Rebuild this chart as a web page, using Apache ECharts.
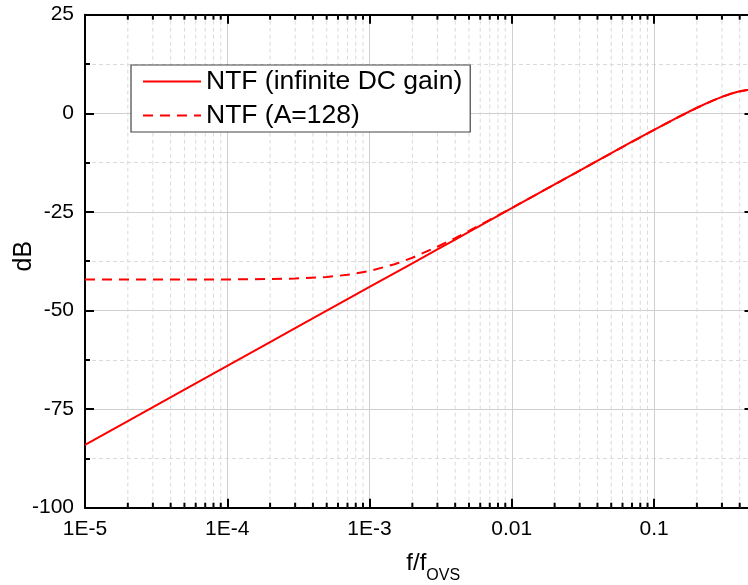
<!DOCTYPE html>
<html>
<head>
<meta charset="utf-8">
<script src="https://cdn.jsdelivr.net/npm/echarts@6/dist/echarts.min.js"></script>
<style>html,body{margin:0;padding:0;background:#fff;}#chart{width:748px;height:585px;}</style>
</head>
<body>
<div id="chart"></div>
<script>
// Frequencies (f/fovs)
const freq = [1e-5, 2e-5, 5e-5, 1e-4, 2e-4, 3e-4, 5e-4, 7e-4, 1e-3, 1.5e-3, 2e-3, 3e-3, 4e-3, 5e-3, 7e-3,
  0.01, 0.02, 0.03, 0.05, 0.07, 0.1, 0.15, 0.2, 0.25, 0.3, 0.35, 0.4, 0.45, 0.5];
// NTF (infinite DC gain), dB
const ntfIdeal = [-84.04, -78.02, -70.06, -64.04, -58.02, -54.49, -50.06, -47.13, -44.04, -40.51, -38.02, -34.50, -32.00, -30.06, -27.13,
  -24.04, -18.02, -14.51, -10.09, -7.20, -4.18, -0.84, 1.41, 3.01, 4.18, 5.02, 5.58, 5.91, 6.02];
// NTF (A=128), dB
const ntfFinite = [-42.14, -42.14, -42.13, -42.12, -42.03, -41.90, -41.50, -40.96, -39.99, -38.26, -36.62, -33.84, -31.63, -29.83, -27.03,
  -24.00, -18.04, -14.53, -10.12, -7.24, -4.21, -0.87, 1.38, 2.98, 4.15, 4.99, 5.55, 5.88, 5.99];

const seriesNames = ['NTF (infinite DC gain)', 'NTF (A=128)'];
const xTickValues = [1e-5, 1e-4, 1e-3, 1e-2, 1e-1];
const xTickLabels = ['1E-5', '1E-4', '1E-3', '0.01', '0.1'];
const xMinorTicks = [];
[1e-5, 1e-4, 1e-3, 1e-2, 1e-1].forEach(function (d) {
  [2, 3, 4, 5, 6, 7, 8, 9].forEach(function (m) { if (d * m < 0.5) xMinorTicks.push(+(d * m).toPrecision(3)); });
});
const yTickLabels = ['-100', '-75', '-50', '-25', '0', '25'];

const X_MIN = 1e-5, X_MAX = 0.5, Y_MIN = -100, Y_MAX = 25;
const FONT = 'Liberation Sans, Arial, sans-serif';

function xLabel(v) {
  const l = Math.log10(v);
  for (let i = 0; i < xTickValues.length; i++) {
    if (Math.abs(l - Math.log10(xTickValues[i])) < 1e-6) return xTickLabels[i];
  }
  return '';
}

const chart = echarts.init(document.getElementById('chart'), null, {renderer: 'canvas'});
const axisLine = {show: true, onZero: false, lineStyle: {color: '#000', width: 2}};
const option = {
  animation: false,
  backgroundColor: '#fff',
  textStyle: {fontFamily: FONT},
  grid: {left: 85, right: -5.5, top: 14.7, bottom: 77.3, containLabel: false, outerBoundsMode: 'none'},
  legend: {
    orient: 'vertical', left: 131, top: 65,
    data: seriesNames,
    itemWidth: 58, itemHeight: 14, itemGap: 7, itemTextGap: 9,
    padding: [3, 8, 3, 11],
    backgroundColor: '#fff', borderColor: '#444', borderWidth: 1.2, borderRadius: 0,
    itemStyle: {opacity: 0},
    textStyle: {fontSize: 26.5, color: '#000', fontFamily: FONT},
    z: 10
  },
  xAxis: [{
    type: 'log', logBase: 10, min: X_MIN, max: X_MAX, position: 'bottom',
    name: '{a|f/f}{b|OVS}', nameLocation: 'middle', nameGap: 44, nameMoveOverlap: false,
    nameTextStyle: {padding: [0, 0, 0, 28], rich: {
      a: {fontSize: 24, lineHeight: 24, verticalAlign: 'top', color: '#000', fontFamily: FONT},
      b: {fontSize: 16, padding: [16, 0, 0, 0], verticalAlign: 'bottom', color: '#000', fontFamily: FONT}
    }},
    axisLine: axisLine,
    axisTick: {show: true, inside: true, length: 9, lineStyle: {color: '#000', width: 2}},
    axisLabel: {show: true, fontSize: 21, color: '#000', margin: 11, formatter: xLabel, showMaxLabel: true, hideOverlap: false},
    splitLine: {show: true, lineStyle: {color: '#cfcfcf', width: 1}},
    minorTick: {show: false}, minorSplitLine: {show: false}
  }, {
    type: 'log', logBase: 10, min: X_MIN, max: X_MAX, position: 'top',
    axisLine: axisLine,
    axisTick: {show: true, inside: true, length: 9, lineStyle: {color: '#000', width: 2}},
    axisLabel: {show: false}, splitLine: {show: false}
  }],
  yAxis: [{
    type: 'value', min: Y_MIN, max: Y_MAX, interval: 25, position: 'left',
    name: 'dB', nameLocation: 'middle', nameGap: 48, nameRotate: 90, nameMoveOverlap: false,
    nameTextStyle: {fontSize: 25, color: '#000', fontFamily: FONT, padding: [0, 0, 0, 10]},
    axisLine: axisLine,
    axisTick: {show: true, inside: true, length: 9, lineStyle: {color: '#000', width: 2}},
    minorTick: {show: true, splitNumber: 2, length: 5, lineStyle: {color: '#000', width: 2}},
    axisLabel: {show: true, fontSize: 21, color: '#000', margin: 11,
      formatter: function (v) { const i = Math.round((v - Y_MIN) / 25); return yTickLabels[i] || ''; }},
    splitLine: {show: true, lineStyle: {color: '#cfcfcf', width: 1}},
    minorSplitLine: {show: true, lineStyle: {color: '#dadada', width: 1, type: [4, 3]}}
  }, {
    type: 'value', min: Y_MIN, max: Y_MAX, interval: 25, position: 'right',
    axisLine: axisLine,
    axisTick: {show: true, inside: true, length: 9, lineStyle: {color: '#000', width: 2}},
    minorTick: {show: true, splitNumber: 2, length: 5, lineStyle: {color: '#000', width: 2}},
    axisLabel: {show: false}, splitLine: {show: false}
  }],
  series: [{
    type: 'custom', name: 'minor', xAxisIndex: 0, yAxisIndex: 0, z: 1, silent: true,
    data: xMinorTicks.map(function (v) { return [v, Y_MIN]; }),
    renderItem: function (params, api) {
      const x = api.value(0);
      const b = api.coord([x, Y_MIN]);
      const t = api.coord([x, Y_MAX]);
      return {type: 'group', children: [
        {type: 'line', shape: {x1: b[0], y1: b[1], x2: t[0], y2: t[1]}, style: {stroke: '#dadada', lineWidth: 1, lineDash: [4, 3]}},
        {type: 'line', shape: {x1: b[0], y1: b[1], x2: b[0], y2: b[1] - 5}, style: {stroke: '#000', lineWidth: 2}},
        {type: 'line', shape: {x1: t[0], y1: t[1], x2: t[0], y2: t[1] + 5}, style: {stroke: '#000', lineWidth: 2}}
      ]};
    }
  }, {
    type: 'line', name: seriesNames[0], xAxisIndex: 0, yAxisIndex: 0, z: 5,
    data: freq.map(function (f, i) { return [f, ntfIdeal[i]]; }),
    showSymbol: false, symbol: 'none', smooth: false,
    lineStyle: {color: '#ff0000', width: 2}, itemStyle: {color: '#ff0000'}
  }, {
    type: 'line', name: seriesNames[1], xAxisIndex: 0, yAxisIndex: 0, z: 4,
    data: freq.map(function (f, i) { return [f, ntfFinite[i]]; }),
    showSymbol: false, symbol: 'none', smooth: false,
    lineStyle: {color: '#ff0000', width: 2, type: [10, 7]}, itemStyle: {color: '#ff0000'}
  }]
};
chart.setOption(option);
</script>
</body>
</html>
